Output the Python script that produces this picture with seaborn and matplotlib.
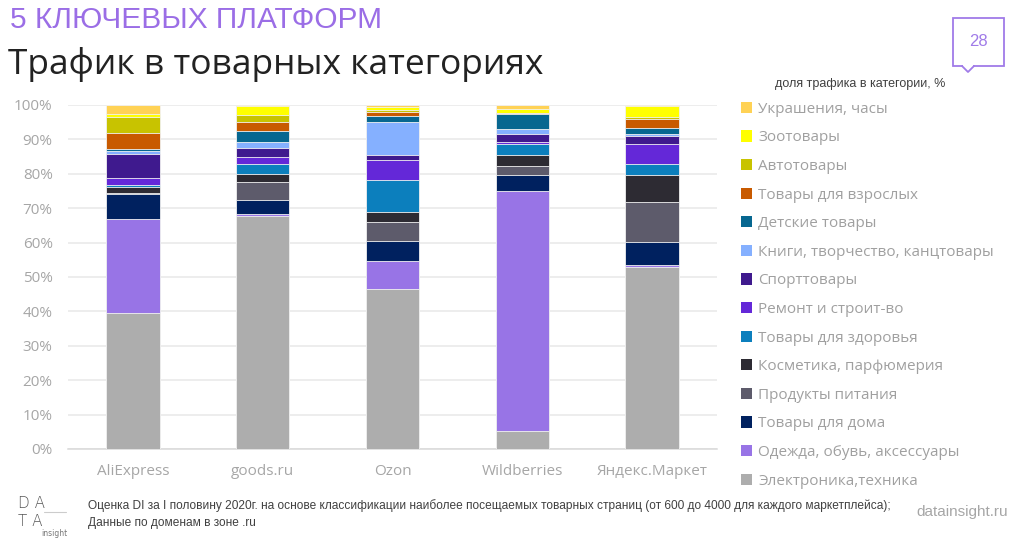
import numpy as np
import pandas as pd
import seaborn as sns
import matplotlib.pyplot as plt
from matplotlib.patches import Patch, Rectangle
from matplotlib.lines import Line2D

# platforms and categories (bottom -> top of each bar)
platforms = ["AliExpress", "goods.ru", "Ozon", "Wildberries", "Яндекс.Маркет"]
categories = ["Электроника,техника", "Одежда, обувь, аксессуары", "Товары для дома",
              "Продукты питания", "Косметика, парфюмерия", "Товары для здоровья",
              "Ремонт и строит-во", "Спорттовары", "Книги, творчество, канцтовары",
              "Детские товары", "Товары для взрослых", "Автотовары", "Зоотовары",
              "Украшения, часы"]
colors = ["#adadad", "#9874e6", "#00215f", "#5d5b6b", "#2d2b33", "#0c7fbd",
          "#6428d8", "#3f1a8e", "#85b0ff", "#076790", "#c85a00", "#c8c300",
          "#ffff00", "#ffd255"]

# share of traffic, % (same order as categories)
aliexpress = [39.4, 27.5, 7.2, 0.3, 1.8, 0.6, 2.1, 6.8, 0.8, 0.6, 4.8, 4.7, 0.7, 2.7]
goods = [67.8, 0.5, 4.1, 5.1, 2.4, 2.9, 2.0, 2.8, 1.7, 3.2, 2.5, 2.1, 2.7, 0.2]
ozon = [46.4, 8.3, 5.8, 5.5, 3.0, 9.2, 5.8, 1.4, 9.8, 1.5, 1.3, 0.5, 0.9, 0.6]
wildberries = [5.3, 69.6, 4.7, 2.7, 3.2, 3.2, 0.6, 2.2, 1.5, 4.3, 0.3, 0.2, 1.0, 1.2]
yandex = [53.0, 0.5, 6.8, 11.5, 7.8, 3.2, 6.0, 2.3, 0.4, 1.7, 2.7, 0.7, 3.2, 0.2]

df = pd.DataFrame([aliexpress, goods, ozon, wildberries, yandex],
                  index=platforms, columns=categories)
cum = df.cumsum(axis=1)

sns.set_style("white")
plt.rcParams['font.family'] = ['Open Sans', 'DejaVu Sans']

fig = plt.figure(figsize=(10.23, 5.42), dpi=100)
W, H = 1023, 542
ax = fig.add_axes([68 / W, (H - 449) / H, 649 / W, 344 / H])

# stacked bars: draw cumulative totals from the top category down
for cat, col in reversed(list(zip(categories, colors))):
    sns.barplot(x=platforms, y=cum[cat].values, color=col, width=0.41,
                saturation=1, edgecolor="#f2f2f2", linewidth=0.6, ax=ax, zorder=3)

ax.set_ylim(0, 100)
ax.set_xlim(-0.5, 4.5)
ax.set_yticks(np.arange(0, 101, 10))
ax.set_yticklabels([f"{v}%" for v in range(0, 101, 10)])
ax.yaxis.grid(True, color="#e8e8e8", lw=1.1, zorder=0)
ax.set_axisbelow(True)
for s in ["top", "right", "left"]:
    ax.spines[s].set_visible(False)
ax.spines["bottom"].set_color("#d9d9d9")
ax.spines["bottom"].set_linewidth(1.1)
ax.tick_params(axis="y", length=0, pad=11, labelsize=11, labelcolor="#a6a6a6")
ax.tick_params(axis="x", length=0, pad=11, labelsize=11, labelcolor="#a6a6a6")
ax.set_xticks(np.arange(-0.5, 5, 1), minor=True)
ax.tick_params(axis="x", which="minor", length=5, color="#d9d9d9", width=1.1)
ax.set_xlabel("")
ax.set_ylabel("")

# legend (top category first)
handles = [Patch(facecolor=c, edgecolor="none") for c in reversed(colors)]
leg = fig.legend(handles, list(reversed(categories)), loc="upper left",
                 bbox_to_anchor=(727 / W, (H - 88) / H), frameon=False,
                 fontsize=11, labelcolor="#a0a0a0", handlelength=0.75,
                 handleheight=0.75, handletextpad=0.4, labelspacing=0.89)
fig.text(860 / W, (H - 84) / H, "доля трафика в категории, %", ha="center",
         va="center", fontsize=9, color="#404040", family="Liberation Sans")

# titles
fig.text(10 / W, (H - 20) / H, "5 КЛЮЧЕВЫХ ПЛАТФОРМ", fontsize=21.5,
         color="#9b6ee6", va="center", family="Liberation Sans")
fig.text(8 / W, (H - 65) / H, "Трафик в товарных категориях", fontsize=25.5,
         color="#222222", va="center")

# page number box
box_col = "#a07be8"
fig.patches.append(Rectangle((953 / W, (H - 66) / H), 51 / W, 48 / H,
                             transform=fig.transFigure, fill=False,
                             edgecolor=box_col, lw=1.3))
fig.lines.append(Line2D([962 / W, 968 / W, 974 / W],
                        [(H - 66) / H, (H - 72) / H, (H - 66) / H],
                        transform=fig.transFigure, color=box_col, lw=1.3))
fig.patches.append(Rectangle((963 / W, (H - 67) / H), 10 / W, 2 / H,
                             transform=fig.transFigure, facecolor="white",
                             edgecolor="none"))
fig.text(978 / W, (H - 41) / H, "28", ha="center", va="center", fontsize=12,
         color=box_col, family="Liberation Sans")

# footer
fig.text(88 / W, (H - 506) / H,
         "Оценка DI за I половину 2020г. на основе классификации наиболее посещаемых "
         "товарных страниц (от 600 до 4000 для каждого маркетплейса);",
         fontsize=8.6, color="#404040", va="center", family="Liberation Sans")
fig.text(88 / W, (H - 523) / H, "Данные по доменам в зоне .ru",
         fontsize=8.6, color="#404040", va="center", family="Liberation Sans")
fig.text(1008 / W, (H - 512) / H, "datainsight.ru", ha="right", va="center",
         fontsize=11, color="#a6a6a6", family="Liberation Sans")

# logo
fig.text(18 / W, (H - 504) / H, "D A", fontsize=11, color="#555555",
         va="center", family="DejaVu Sans", fontweight="light")
fig.text(18 / W, (H - 521) / H, "T A", fontsize=11, color="#555555",
         va="center", family="DejaVu Sans", fontweight="light")
fig.text(41 / W, (H - 533) / H, "insight", fontsize=5.5, color="#777777",
         va="center", family="DejaVu Sans")
fig.lines.append(Line2D([44 / W, 66 / W], [(H - 512) / H, (H - 512) / H],
                        transform=fig.transFigure, color="#cccccc", lw=0.8))

fig.savefig("out.png", dpi=100)
